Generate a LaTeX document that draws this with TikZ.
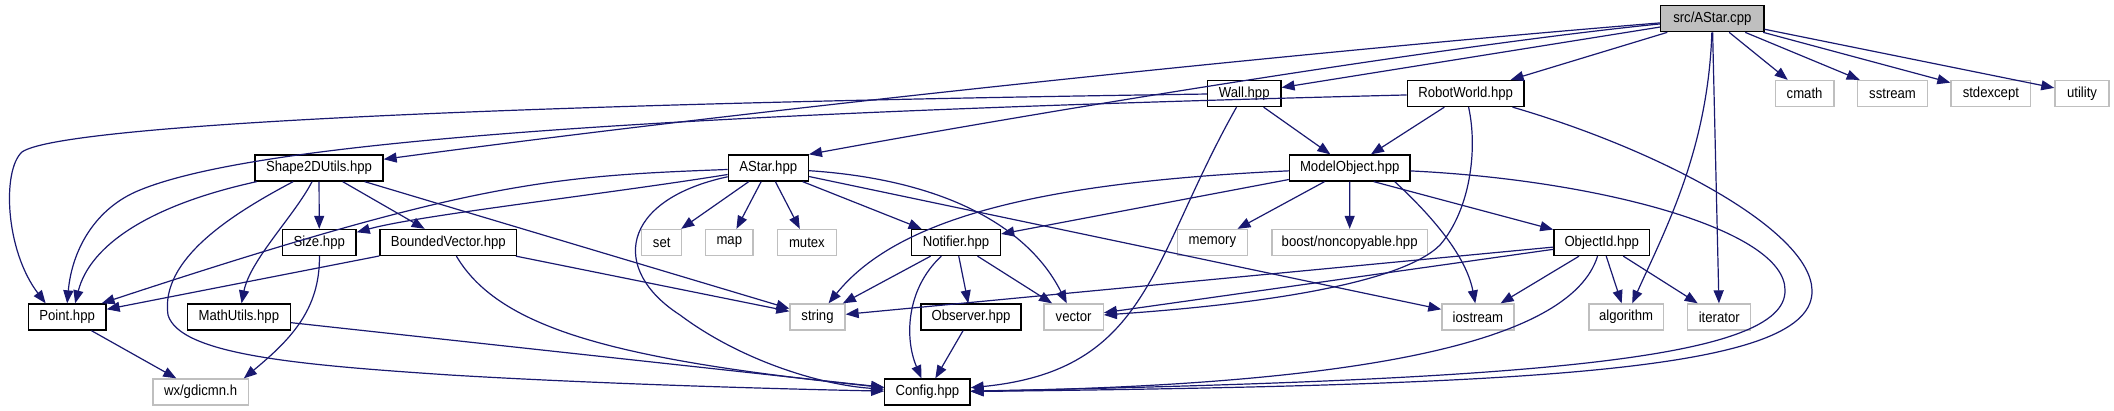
\documentclass[tikz,border=0pt]{standalone}
\usepackage{fontspec}
\setmainfont{Liberation Sans}[FakeStretch=0.9]
\usetikzlibrary{arrows.meta,calc}
\definecolor{edgeblue}{HTML}{191970}
\definecolor{extgray}{HTML}{BFBFBF}
\definecolor{srcfill}{HTML}{BFBFBF}
\tikzset{
  box/.style={draw=black, line width=0.65pt, fill=white, inner sep=0pt,
    minimum height=13pt, font=\fontsize{7.3}{8.5}\selectfont},
  extbox/.style={box, draw=extgray, line width=0.65pt},
  srcbox/.style={box, fill=srcfill},
  e/.style={draw=edgeblue, line width=0.6pt, -{Triangle[length=6.5pt,width=5pt]}}
}
\begin{document}
\begin{tikzpicture}[x=0.5pt,y=-0.5pt]
\useasboundingbox (0,0) rectangle (2114,411);
% row 0
\node[srcbox, minimum width=51.65pt] (src) at (1712.3,18.7) {src/AStar.cpp};
% row 1
\node[box, minimum width=36.65pt] (wall) at (1244.25,93.5) {Wall.hpp};
\node[box, minimum width=58.3pt] (rw) at (1465.6,93.5) {RobotWorld.hpp};
\node[extbox, minimum width=29.4pt] (cmath) at (1804.6,93.5) {cmath};
\node[extbox, minimum width=34.85pt] (sstream) at (1892.55,93.5) {sstream};
\node[extbox, minimum width=39.85pt] (stdexcept) at (1990.85,93.5) {stdexcept};
\node[extbox, minimum width=27.1pt] (utility) at (2082,93.5) {utility};
% row 2
\node[box, minimum width=64pt] (su) at (319,168) {Shape2DUtils.hpp};
\node[box, minimum width=40pt] (ah) at (768.3,168) {AStar.hpp};
\node[box, minimum width=60.3pt] (mo) at (1349.7,168) {ModelObject.hpp};
% row 3
\node[box, minimum width=36.8pt] (size) at (319.3,242.5) {Size.hpp};
\node[box, minimum width=68.35pt] (bv) at (448.35,242.5) {BoundedVector.hpp};
\node[extbox, minimum width=20pt] (set) at (661.7,242.5) {set};
\node[extbox, minimum width=23.6pt] (map) at (729.3,242.5) {map};
\node[extbox, minimum width=29.6pt] (mutex) at (806.9,242.5) {mutex};
\node[box, minimum width=44.5pt] (notifier) at (956,242.5) {Notifier.hpp};
\node[extbox, minimum width=34.85pt] (memory) at (1212.35,242.5) {memory};
\node[extbox, minimum width=77.65pt] (boost) at (1349.65,242.5) {boost/noncopyable.hpp};
\node[box, minimum width=47.85pt] (oid) at (1601.75,242.5) {ObjectId.hpp};
% row 4
\node[box, minimum width=38.85pt] (point) at (67.15,317) {Point.hpp};
\node[box, minimum width=51.3pt] (mathutils) at (238.9,317) {MathUtils.hpp};
\node[extbox, minimum width=27.5pt] (string) at (817.5,317) {string};
\node[box, minimum width=50.1pt] (observer) at (971,317) {Observer.hpp};
\node[extbox, minimum width=29.6pt] (vector) at (1073.6,317) {vector};
\node[extbox, minimum width=36pt] (iostream) at (1477.9,317) {iostream};
\node[extbox, minimum width=37.1pt] (algorithm) at (1626.1,317) {algorithm};
\node[extbox, minimum width=31.45pt] (iterator) at (1719.25,317) {iterator};
% row 5
\node[extbox, minimum width=47.65pt] (wx) at (200.55,392) {wx/gdicmn.h};
\node[box, minimum width=42.6pt] (config) at (927.4,392) {Config.hpp};

% src/AStar.cpp
\draw[e] (src) .. controls (1300,52) and (750,110) .. (su);
\draw[e] (src) .. controls (1450,45) and (1050,110) .. (ah.north east);
\draw[e] (src) -- (wall);
\draw[e] (src) -- (rw);
\draw[e] (src) -- (cmath);
\draw[e] (src) -- (sstream);
\draw[e] (src) -- (stdexcept);
\draw[e] (src) -- (utility);
\draw[e] (src) .. controls (1708,150) and (1665,230) .. (algorithm);
\draw[e] (src) -- (iterator);
% Wall.hpp
\draw[e] (wall) .. controls (500,104) and (60,125) .. (22,152) .. controls (2,170) and (5,250) .. ($(point.north west)+(18,0)$);
\draw[e] (wall) -- (mo);
\draw[e] (wall) .. controls (1150,260) and (1150,370) .. (config);
% RobotWorld.hpp
\draw[e] (rw) .. controls (600,115) and (250,145) .. (140,190) .. controls (95,208) and (72,250) .. (point.north);
\draw[e] (rw) -- (mo);
\draw[e] (rw) .. controls (1478,150) and (1470,210) .. (1440,245) .. controls (1400,285) and (1250,305) .. (vector);
\draw[e] (rw) .. controls (1660,150) and (1810,230) .. (1812,290) .. controls (1815,370) and (1550,385) .. (config);
% Shape2DUtils.hpp
\draw[e] (su) .. controls (150,205) and (90,245) .. ($(point.north)+(8,0)$);
\draw[e] (su) -- (size);
\draw[e] (su) -- (bv);
\draw[e] (su) .. controls (295,215) and (250,260) .. (mathutils);
\draw[e] (su) .. controls (230,215) and (160,260) .. (168,315) .. controls (180,355) and (300,365) .. (450,375) .. controls (600,384) and (780,389) .. (config);
\draw[e] (su) -- (string);
% AStar.hpp
\draw[e] (ah) .. controls (550,176) and (470,182) .. ($(point.north east)+(-5,0)$);
\draw[e] (ah) .. controls (600,195) and (420,215) .. (size);
\draw[e] (ah) .. controls (620,200) and (610,270) .. (680,315) .. controls (740,360) and (820,385) .. (config);
\draw[e] (ah) -- (set);
\draw[e] (ah) -- (map);
\draw[e] (ah) -- (mutex);
\draw[e] (ah) -- (notifier);
\draw[e] (ah) .. controls (950,180) and (1030,230) .. (vector);
\draw[e] (ah) -- (iostream);
% ModelObject.hpp
\draw[e] (mo) -- (notifier);
\draw[e] (mo) .. controls (1050,182) and (900,215) .. (string);
\draw[e] (mo) -- (memory);
\draw[e] (mo) -- (boost);
\draw[e] ($(mo.south)+(24,0)$) -- (oid);
\draw[e] ($(mo.south)+(45,0)$) .. controls (1420,205) and (1465,250) .. (iostream);
\draw[e] (mo) .. controls (1600,180) and (1785,230) .. (1785,290) .. controls (1787,360) and (1530,380) .. (config);
% BoundedVector.hpp
\draw[e] (bv) -- (point);
\draw[e] (bv) -- (string);
\draw[e] (bv) .. controls (500,330) and (620,360) .. (config);
% Size, Point, MathUtils
\draw[e] (size) .. controls (320,310) and (290,340) .. ($(wx.north east)+(-5,0)$);
\draw[e] (point) -- (wx);
\draw[e] (mathutils) -- (config);
% Notifier.hpp
\draw[e] (notifier) -- (string);
\draw[e] (notifier) -- (observer);
\draw[e] (notifier) -- (vector);
\draw[e] (notifier) .. controls (905,290) and (905,340) .. (config);
\draw[e] (observer) -- (config);
% ObjectId.hpp
\draw[e] (oid) -- (string);
\draw[e] (oid) -- (vector);
\draw[e] (oid) -- (iostream);
\draw[e] (oid) -- (algorithm);
\draw[e] (oid) -- (iterator);
\draw[e] (oid) .. controls (1570,345) and (1350,385) .. (config);
\end{tikzpicture}
\end{document}
